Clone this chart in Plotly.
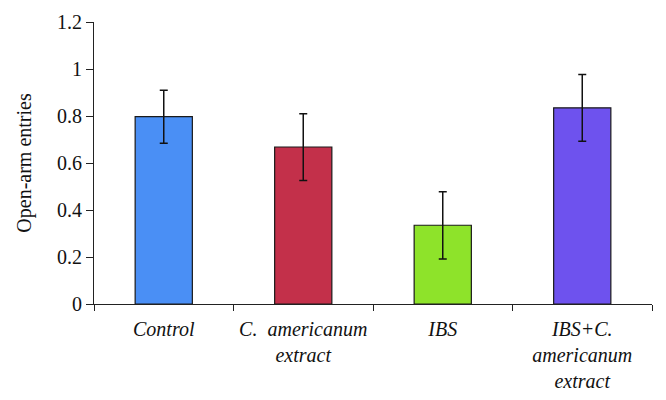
import plotly.graph_objects as go

categories = ["<i>Control</i>", "<i>C.  americanum<br>extract</i>", "<i>IBS</i>",
              "<i>IBS+C.<br>americanum<br>extract</i>"]
means = [0.797, 0.668, 0.335, 0.835]
errors = [0.113, 0.142, 0.143, 0.142]
colors = ["#4A8FF5", "#C3304A", "#8EE32A", "#6E52EE"]
y_ticks = [0, 0.2, 0.4, 0.6, 0.8, 1, 1.2]

fig = go.Figure(go.Bar(
    x=categories, y=means,
    marker=dict(color=colors, line=dict(color="#1a1a1a", width=1.2)),
    width=0.41,
    error_y=dict(type="data", array=errors, visible=True, color="#111111",
                 thickness=1.5, width=4),
))

font_family = "Liberation Serif, DejaVu Serif, serif"
fig.update_layout(
    width=658, height=392,
    margin=dict(l=86, r=14, t=14, b=96),
    plot_bgcolor="white", paper_bgcolor="white",
    font=dict(family=font_family, size=19, color="#111111"),
    showlegend=False,
)
fig.update_xaxes(
    automargin=False,
    showline=True, linecolor="#222222", linewidth=1.2,
    ticks="outside", tickson="boundaries", ticklen=6, tickcolor="#222222",
    tickfont=dict(size=20, family=font_family, color="#111111"),
    ticklabelstandoff=7,
    showgrid=False,
)
fig.update_yaxes(
    automargin=False,
    range=[0, 1.2], tickvals=y_ticks, ticktext=[str(v) for v in y_ticks],
    showline=True, linecolor="#222222", linewidth=1.2,
    ticks="outside", ticklen=7, tickcolor="#222222",
    tickfont=dict(size=20, family=font_family, color="#111111"),
    showgrid=False, zeroline=False,
    title=dict(text="Open-arm entries", font=dict(size=20, family=font_family), standoff=19),
)

fig.write_html("out.html")
